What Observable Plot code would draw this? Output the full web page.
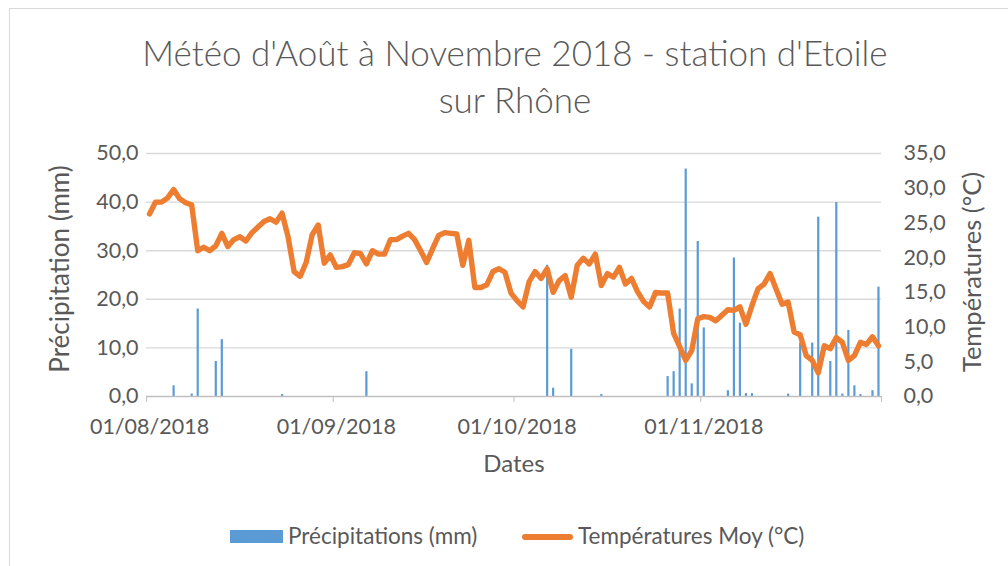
<!DOCTYPE html>
<html><head><meta charset="utf-8">
<script src="https://cdn.jsdelivr.net/npm/d3@7"></script>
<script src="https://cdn.jsdelivr.net/npm/@observablehq/plot@0.6"></script>
<style>
body{margin:0;background:#fff;font-family:Lato,sans-serif;color:#595959}
#wrap{position:relative;width:1008px;height:566px;overflow:hidden;background:#fff}
#frame{position:absolute;left:9px;top:8px;width:1100px;height:600px;border:1px solid #d9d9d9}
#title{position:absolute;left:0;top:29px;width:1030px;text-align:center;font-size:35px;font-weight:300;line-height:47px;color:#595959}
#chart{position:absolute;left:0;top:130px}
.lg{position:absolute;top:521px;font-size:22.5px;line-height:30px;color:#595959;white-space:nowrap}
#sw1{position:absolute;left:230px;top:530px;width:53px;height:13px;background:#5B9BD5}
#sw2{position:absolute;left:522px;top:534px;width:51px;height:6px;border-radius:3px;background:#ED7D31}
</style></head>
<body><div id="wrap">
<div id="frame"></div>
<div id="title">Météo d'Août à Novembre 2018 - station d'Etoile<br>sur Rhône</div>
<div id="chart"></div>
<div id="sw1"></div><div class="lg" style="left:288px">Précipitations (mm)</div>
<div id="sw2"></div><div class="lg" style="left:578px">Températures Moy (°C)</div>
</div>
<script>
// Daily mean temperature (°C), 1 Aug -> 30 Nov 2018
const firstDay = "2018-08-01";
const temperatures = [
  26.3,28.0,28.0,28.6,29.8,28.5,27.9,27.6,21.0,21.5,
  21.0,21.7,23.5,21.6,22.6,23.0,22.4,23.6,24.4,25.2,
  25.6,25.1,26.4,23.0,18.0,17.3,19.3,23.3,24.7,19.2,
  20.4,18.6,18.7,19.0,20.7,20.6,19.1,21.0,20.5,20.5,
  22.6,22.6,23.1,23.5,22.6,21.0,19.3,21.3,23.2,23.6,
  23.5,23.4,18.9,22.5,15.7,15.7,16.1,18.0,18.4,17.9,
  14.9,13.8,12.9,16.5,18.0,17.0,18.4,15.0,16.7,17.4,
  14.3,18.9,19.9,19.1,20.5,16.0,17.7,17.2,18.6,16.2,
  17.0,15.1,13.7,12.9,15.0,14.9,14.9,9.1,7.2,5.2,
  6.6,11.2,11.5,11.4,10.9,11.7,12.5,12.4,12.9,10.4,
  13.1,15.5,16.2,17.7,15.5,13.3,13.6,9.3,8.9,5.9,
  5.2,3.4,7.3,6.9,8.5,7.8,5.2,5.9,7.8,7.5,
  8.6,7.3
];
// Rainy days and precipitation (mm)
const rainDates = ["2018-08-05","2018-08-08","2018-08-09","2018-08-12","2018-08-13","2018-08-23","2018-09-06",
  "2018-10-06","2018-10-07","2018-10-10","2018-10-15","2018-10-26","2018-10-27","2018-10-28","2018-10-29",
  "2018-10-30","2018-10-31","2018-11-01","2018-11-05","2018-11-06","2018-11-07","2018-11-08","2018-11-09",
  "2018-11-15","2018-11-17","2018-11-19","2018-11-20","2018-11-22","2018-11-23","2018-11-24","2018-11-25",
  "2018-11-26","2018-11-27","2018-11-29","2018-11-30"];
const rainMm = [2.2,0.5,18.0,7.2,11.7,0.4,5.1,
  27.0,1.7,9.7,0.4,4.1,5.1,18.0,46.8,
  2.6,31.9,14.1,1.2,28.5,15.1,0.6,0.6,
  0.5,11.0,11.0,36.9,7.2,39.9,0.5,13.6,
  2.2,0.4,1.2,22.5];
// Axis ticks
const mmTicks = [0,10,20,30,40,50];
const tempTicks = [0,5,10,15,20,25,30,35];
const monthTicks = ["2018-08-01","2018-09-01","2018-10-01","2018-11-01","2018-12-01"];
const monthLabels = ["01/08/2018","01/09/2018","01/10/2018","01/11/2018",""];

const mmMax = 50, tMax = 35;
const toMm = t => t * mmMax / tMax;
const fmt = v => v.toFixed(1).replace(".", ",");
const noon = s => new Date(s + "T12:00:00Z");
const mid = s => new Date(s + "T00:00:00Z");

const start = mid(firstDay);
const tempData = temperatures.map((t, i) => ({date: d3.utcHour.offset(d3.utcDay.offset(start, i), 12), t}));
const rainData = rainDates.map((d, i) => ({date: noon(d), mm: rainMm[i]}));
const labelTicks = monthTicks.slice(0, 4).map(noon);
const labelMap = new Map(labelTicks.map((d, i) => [d.getTime(), monthLabels[i]]));

const plot = Plot.plot({
  width: 1008,
  height: 370,
  marginTop: 23,
  marginBottom: 104,
  marginLeft: 146,
  marginRight: 127,
  style: {fontFamily: "Lato, sans-serif", fontSize: "21.5px", color: "#595959", background: "transparent", overflow: "visible"},
  x: {type: "utc", domain: [mid(monthTicks[0]), mid(monthTicks[4])]},
  y: {domain: [0, mmMax]},
  marks: [
    Plot.ruleY(mmTicks.slice(1), {stroke: "#d9d9d9", strokeWidth: 1.4}),
    Plot.ruleX(rainData, {x: "date", y1: 0, y2: "mm", stroke: "#5B9BD5", strokeWidth: 2.2}),
    Plot.line(tempData, {x: "date", y: d => toMm(d.t), stroke: "#ED7D31", strokeWidth: 5.4, strokeLinejoin: "round", strokeLinecap: "round"}),
    Plot.ruleY([0], {stroke: "#bfbfbf", strokeWidth: 1.4}),
    Plot.axisX({ticks: monthTicks.map(mid), tickSize: 6, stroke: "#bfbfbf", tickFormat: () => "", label: null}),
    Plot.axisX({ticks: labelTicks, tickSize: 0, tickPadding: 22, tickFormat: d => labelMap.get(d.getTime()), fill: "#595959", label: null}),
    Plot.axisY({ticks: mmTicks, tickSize: 0, tickPadding: 8, tickFormat: fmt, fill: "#595959", label: null}),
    Plot.axisY({anchor: "right", ticks: tempTicks.map(toMm), tickSize: 0, tickPadding: 22, tickFormat: v => fmt(v * tMax / mmMax), fill: "#595959", label: null}),
    Plot.text(["Précipitation (mm)"], {frameAnchor: "left", textAnchor: "middle", dx: -86, dy: -6, rotate: -90, fontSize: 26, fill: "#595959"}),
    Plot.text(["Températures (°C)"], {frameAnchor: "right", textAnchor: "middle", dx: 91, dy: -3, rotate: -90, fontSize: 25.5, fill: "#595959"}),
    Plot.text(["Dates"], {frameAnchor: "bottom", dy: 75, fontSize: 24, fill: "#595959"})
  ]
});
document.getElementById("chart").appendChild(plot);
</script>
</body></html>
